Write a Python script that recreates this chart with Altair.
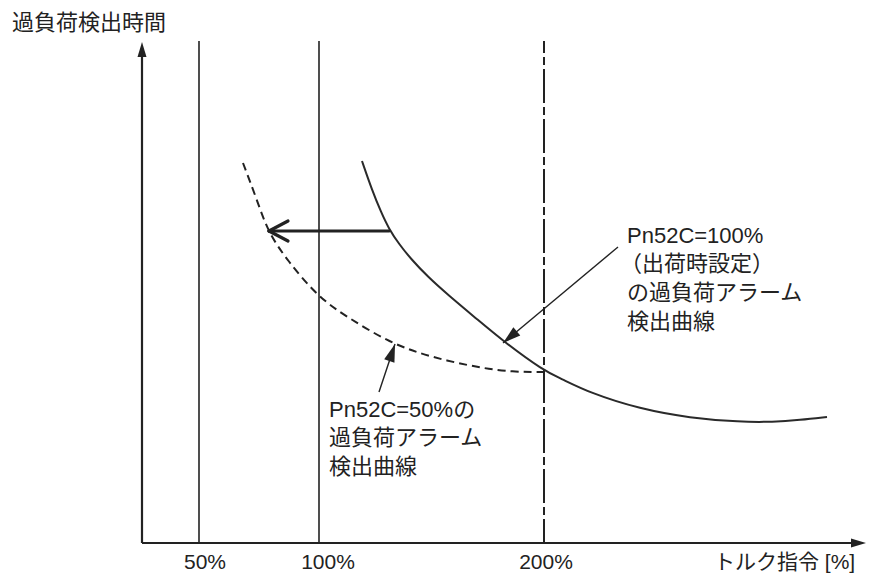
import altair as alt
import pandas as pd
import numpy as np

# Schematic coordinates: origin at the corner of the two axes (x right, y up).
XDOM = [-134, 725]
YDOM = [-31, 535]

# torque ticks (non-linear schematic axis)
tick_pos = [57, 177, 402]
tick_labels = ["50%", "100%", "200%"]
tick_label_x = [63, 186, 404]
tick_label_y = [-20, -20, -20]
line_top = 502

# Pn52C=100% curve (solid)
solid_x = [220, 230, 239, 247, 257, 269, 286, 305, 336, 361, 402, 418, 448, 498, 548, 598, 631, 658, 685]
solid_y = [382, 353, 331, 314, 299, 284, 266, 249, 223, 202, 172, 165, 150, 134, 125, 121, 121, 123, 126]

# Pn52C=50% curve (dashed)
dashed_x = [101, 115, 126, 145, 176, 205, 248, 288, 338, 371, 401]
dashed_y = [380, 343, 311, 283, 246, 226, 200, 186, 175, 171, 171]

# texts
text_lines = ["過負荷検出時間",
              "Pn52C=100%", "（出荷時設定）", "の過負荷アラーム", "検出曲線",
              "Pn52C=50%の", "過負荷アラーム", "検出曲線"]
text_x = [-130, 485, 478, 485, 485, 187, 187, 187]
text_y = [520, 307, 279, 250, 221, 133, 105, 76]

x_title = "トルク指令 [%]"
x_title_pos = (572, -20)

# arrows (start -> tip)
shift_arrow = {"x": 247, "y": 312, "x2": 127, "y2": 312}
shift_arms_x = [146, 146]
shift_arms_y = [322, 302]
ann_start_x = [476, 237]
ann_start_y = [296, 151]
ann_tip_x = [361, 253]
ann_tip_y = [200, 199]

FONT = "'Liberation Sans', 'Noto Sans CJK JP', sans-serif"
INK = "#222222"

xs = alt.Scale(domain=XDOM, nice=False, zero=False)
ys = alt.Scale(domain=YDOM, nice=False, zero=False)


def X(f="x"):
    return alt.X(f"{f}:Q", scale=xs, axis=None)


def Y(f="y"):
    return alt.Y(f"{f}:Q", scale=ys, axis=None)


def rules(df, **mk):
    return alt.Chart(df).mark_rule(color=INK, **mk).encode(
        x=X(), y=Y(), x2="x2:Q", y2="y2:Q")


axes_df = pd.DataFrame({"x": [0, 0], "y": [0, 0], "x2": [0, 712], "y2": [488, 0]})
vlines_df = pd.DataFrame({"x": tick_pos[:2], "y": [0, 0], "x2": tick_pos[:2],
                          "y2": [line_top, line_top]})
dashdot_df = pd.DataFrame({"x": [tick_pos[2]], "y": [line_top], "x2": [tick_pos[2]], "y2": [0]})

shift_df = pd.DataFrame([shift_arrow] + [
    {"x": shift_arrow["x2"], "y": shift_arrow["y2"], "x2": ax, "y2": ay}
    for ax, ay in zip(shift_arms_x, shift_arms_y)])

ann_df = pd.DataFrame({"x": ann_start_x, "y": ann_start_y, "x2": ann_tip_x, "y2": ann_tip_y})


def head_angle(sx, sy, tx, ty):
    return (np.degrees(np.arctan2(-(ty - sy), tx - sx)) + 90) % 360


ann_heads = pd.DataFrame({
    "x": ann_tip_x, "y": ann_tip_y,
    "angle": [head_angle(a, b, c, d) for a, b, c, d in zip(ann_start_x, ann_start_y, ann_tip_x, ann_tip_y)]})
axis_heads = pd.DataFrame({"x": [0, 724], "y": [501, 0], "angle": [0, 90]})

HEAD = "M0,0 L-0.3,1 L0.3,1 Z"


def heads(df, length):
    return alt.Chart(df).mark_point(shape=HEAD, filled=True, color=INK, opacity=1,
                                    size=(2 * length) ** 2, strokeWidth=0).encode(
        x=X(), y=Y(), angle=alt.Angle("angle:Q", scale=None))


solid_df = pd.DataFrame({"x": solid_x, "y": solid_y})
dashed_df = pd.DataFrame({"x": dashed_x, "y": dashed_y})

solid = alt.Chart(solid_df).mark_line(color="#2a2a2a", strokeWidth=2, interpolate="basis").encode(
    x=X(), y=Y(), order="x:Q")
dashed = alt.Chart(dashed_df).mark_line(color=INK, strokeWidth=2, strokeDash=[8, 5],
                                        interpolate="basis").encode(x=X(), y=Y(), order="x:Q")

ticks_df = pd.DataFrame({"x": tick_label_x, "y": tick_label_y, "t": tick_labels})
tick_text = alt.Chart(ticks_df).mark_text(font=FONT, fontSize=21, color=INK, align="center",
                                          baseline="middle").encode(x=X(), y=Y(), text="t:N")

xt_df = pd.DataFrame({"x": [x_title_pos[0]], "y": [x_title_pos[1]], "t": [x_title]})
xt_text = alt.Chart(xt_df).mark_text(font=FONT, fontSize=21, color=INK, align="left",
                                     baseline="middle").encode(x=X(), y=Y(), text="t:N")

texts_df = pd.DataFrame({"x": text_x, "y": text_y, "t": text_lines})
texts = alt.Chart(texts_df).mark_text(font=FONT, fontSize=22, color=INK, align="left",
                                      baseline="middle").encode(x=X(), y=Y(), text="t:N")

chart = alt.layer(
    rules(vlines_df, strokeWidth=1.6),
    rules(dashdot_df, strokeWidth=2, strokeDash=[34, 4, 8, 4], strokeDashOffset=22),
    rules(axes_df, strokeWidth=2.2),
    heads(axis_heads, 15),
    solid,
    dashed,
    rules(shift_df, strokeWidth=3.2, strokeCap="round"),
    rules(ann_df, strokeWidth=1.4),
    heads(ann_heads, 18),
    tick_text,
    xt_text,
    texts,
).properties(
    width=859, height=566, padding=0,
    autosize=alt.AutoSizeParams(type="none"),
).configure_view(stroke=None)

chart.save("out.html", embed_options={"renderer": "svg", "actions": False})
